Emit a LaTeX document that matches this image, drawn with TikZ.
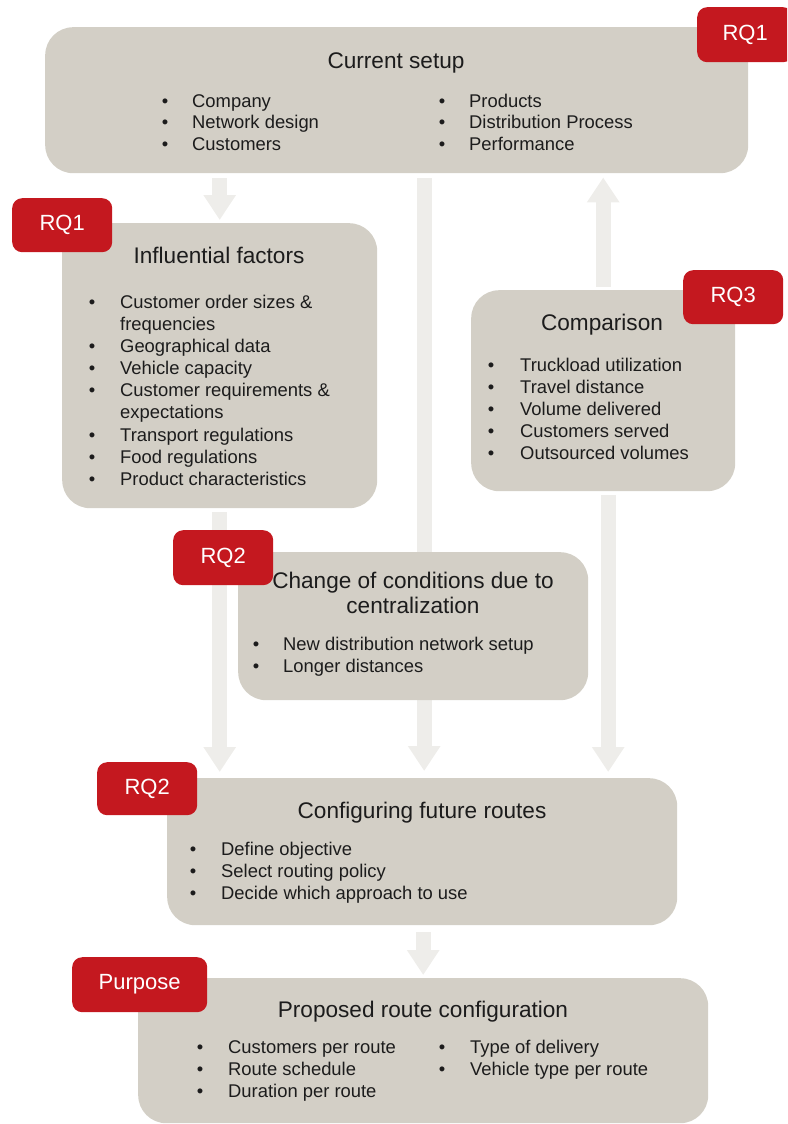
\documentclass[tikz,border=0pt]{standalone}
\usepackage{fontspec}
\setmainfont{Liberation Sans}
\usetikzlibrary{arrows.meta,backgrounds}
\definecolor{panelfill}{HTML}{D3CFC6}
\definecolor{tagred}{HTML}{C4181F}
\definecolor{flowgray}{HTML}{EEEDEA}
\definecolor{ink}{HTML}{1C1C1C}
% one bullet line: name, bullet x, text x, baseline y, text
\newcommand\bulletline[5]{%
  \node[dot] (#1-b) at (#2,#4) {\textbullet};
  \node[item] (#1) at (#3,#4) {#5};}
\begin{document}
\begin{tikzpicture}[x=1pt,y=-1pt,
  panel/.style={fill=panelfill, rounded corners=28pt, inner sep=0pt, anchor=north west},
  tag/.style={fill=tagred, rounded corners=10pt, text=white, inner sep=0pt,
    anchor=north west, font=\fontsize{22}{26}\selectfont},
  title/.style={text=ink, inner sep=0pt, anchor=base, font=\fontsize{22.6}{26}\selectfont},
  item/.style={text=ink, inner sep=0pt, anchor=base west, font=\fontsize{18.4}{22}\selectfont},
  dot/.style={text=ink, inner sep=0pt, anchor=base, font=\fontsize{18.4}{22}\selectfont},
  flow/.style={draw=flowgray, line width=15pt,
    -{Triangle[length=25pt 0, width=31pt 0]}}
]
\path[use as bounding box] (0,0) rectangle (787,1124);
\clip (0,0) rectangle (787,1124);

% panels
\node[panel, minimum width=703pt, minimum height=146pt] (cs) at (45,27) {};
\node[panel, minimum width=315pt, minimum height=285pt] (if) at (62,223) {};
\node[panel, minimum width=264pt, minimum height=201pt] (cmp) at (471,290) {};
\node[panel, minimum width=350pt, minimum height=148pt] (chg) at (238,552) {};
\node[panel, minimum width=510pt, minimum height=147pt] (cfg) at (167,778) {};
\node[panel, minimum width=570pt, minimum height=145pt] (prop) at (138,978) {};

% flow arrows behind the panels
\begin{scope}[on background layer]
  \draw[flow] ([yshift=-5pt]cs.south -| if.north) -- ([yshift=3pt]if.north);
  \coordinate (mid) at ([xshift=2pt]cfg.north);
  \draw[flow] ([yshift=-5pt]cs.south -| mid) -- ([yshift=7pt]mid);
  \draw[flow] ([yshift=-4pt]if.south) -- ([yshift=6pt]cfg.north -| if.south);
  \coordinate (rx) at ([xshift=5pt]cmp.south);
  \draw[flow] ([yshift=-4pt]rx) -- ([yshift=6pt]cfg.north -| rx);
  \draw[flow] ([yshift=3pt]cmp.north) -- ([yshift=-4pt]cs.south -| cmp.north);
  \draw[flow] ([yshift=-7pt]cfg.south -| prop.north) -- ([yshift=3pt]prop.north);
\end{scope}

% Current setup
\node[title] (cs-t) at (396,68) {Current setup};
\bulletline{cs-1}{165}{192}{107}{Company}
\bulletline{cs-2}{165}{192}{128}{Network design}
\bulletline{cs-3}{165}{192}{150}{Customers}
\bulletline{cs-4}{442}{469}{107}{Products}
\bulletline{cs-5}{442}{469}{128}{Distribution Process}
\bulletline{cs-6}{442}{469}{150}{Performance}

% Influential factors
\node[title] (if-t) at (219,263) {Influential factors};
\bulletline{if-1}{92}{120}{308}{Customer order sizes \&}
\node[item] (if-1b) at (120,330) {frequencies};
\bulletline{if-2}{92}{120}{352}{Geographical data}
\bulletline{if-3}{92}{120}{374}{Vehicle capacity}
\bulletline{if-4}{92}{120}{396}{Customer requirements \&}
\node[item] (if-4b) at (120,418) {expectations};
\bulletline{if-5}{92}{120}{441}{Transport regulations}
\bulletline{if-6}{92}{120}{463}{Food regulations}
\bulletline{if-7}{92}{120}{485}{Product characteristics}

% Comparison
\node[title] (cmp-t) at (602,330) {Comparison};
\bulletline{cmp-1}{491}{520}{371}{Truckload utilization}
\bulletline{cmp-2}{491}{520}{393}{Travel distance}
\bulletline{cmp-3}{491}{520}{415}{Volume delivered}
\bulletline{cmp-4}{491}{520}{437}{Customers served}
\bulletline{cmp-5}{491}{520}{459}{Outsourced volumes}

% Change of conditions
\node[title] (chg-t1) at (413,588) {Change of conditions due to};
\node[title] (chg-t2) at (413,613) {centralization};
\bulletline{chg-1}{256}{283}{650}{New distribution network setup}
\bulletline{chg-2}{256}{283}{672}{Longer distances}

% Configuring future routes
\node[title] (cfg-t) at (422,818) {Configuring future routes};
\bulletline{cfg-1}{193}{221}{855}{Define objective}
\bulletline{cfg-2}{193}{221}{877}{Select routing policy}
\bulletline{cfg-3}{193}{221}{899}{Decide which approach to use}

% Proposed route configuration
\node[title] (prop-t) at (423,1017) {Proposed route configuration};
\bulletline{prop-1}{200}{228}{1053}{Customers per route}
\bulletline{prop-2}{200}{228}{1075}{Route schedule}
\bulletline{prop-3}{200}{228}{1097}{Duration per route}
\bulletline{prop-4}{442}{470}{1053}{Type of delivery}
\bulletline{prop-5}{442}{470}{1075}{Vehicle type per route}

% research question tags
\node[tag, minimum width=96pt, minimum height=55pt] (tag-cs) at (697,7) {RQ1};
\node[tag, minimum width=100pt, minimum height=54pt] (tag-if) at (12,198) {RQ1};
\node[tag, minimum width=100pt, minimum height=54pt] (tag-cmp) at (683,270) {RQ3};
\node[tag, minimum width=100pt, minimum height=55pt] (tag-chg) at (173,530) {RQ2};
\node[tag, minimum width=100pt, minimum height=53pt] (tag-cfg) at (97,762) {RQ2};
\node[tag, minimum width=135pt, minimum height=55pt] (tag-prop) at (72,957) {Purpose};
\end{tikzpicture}
\end{document}
